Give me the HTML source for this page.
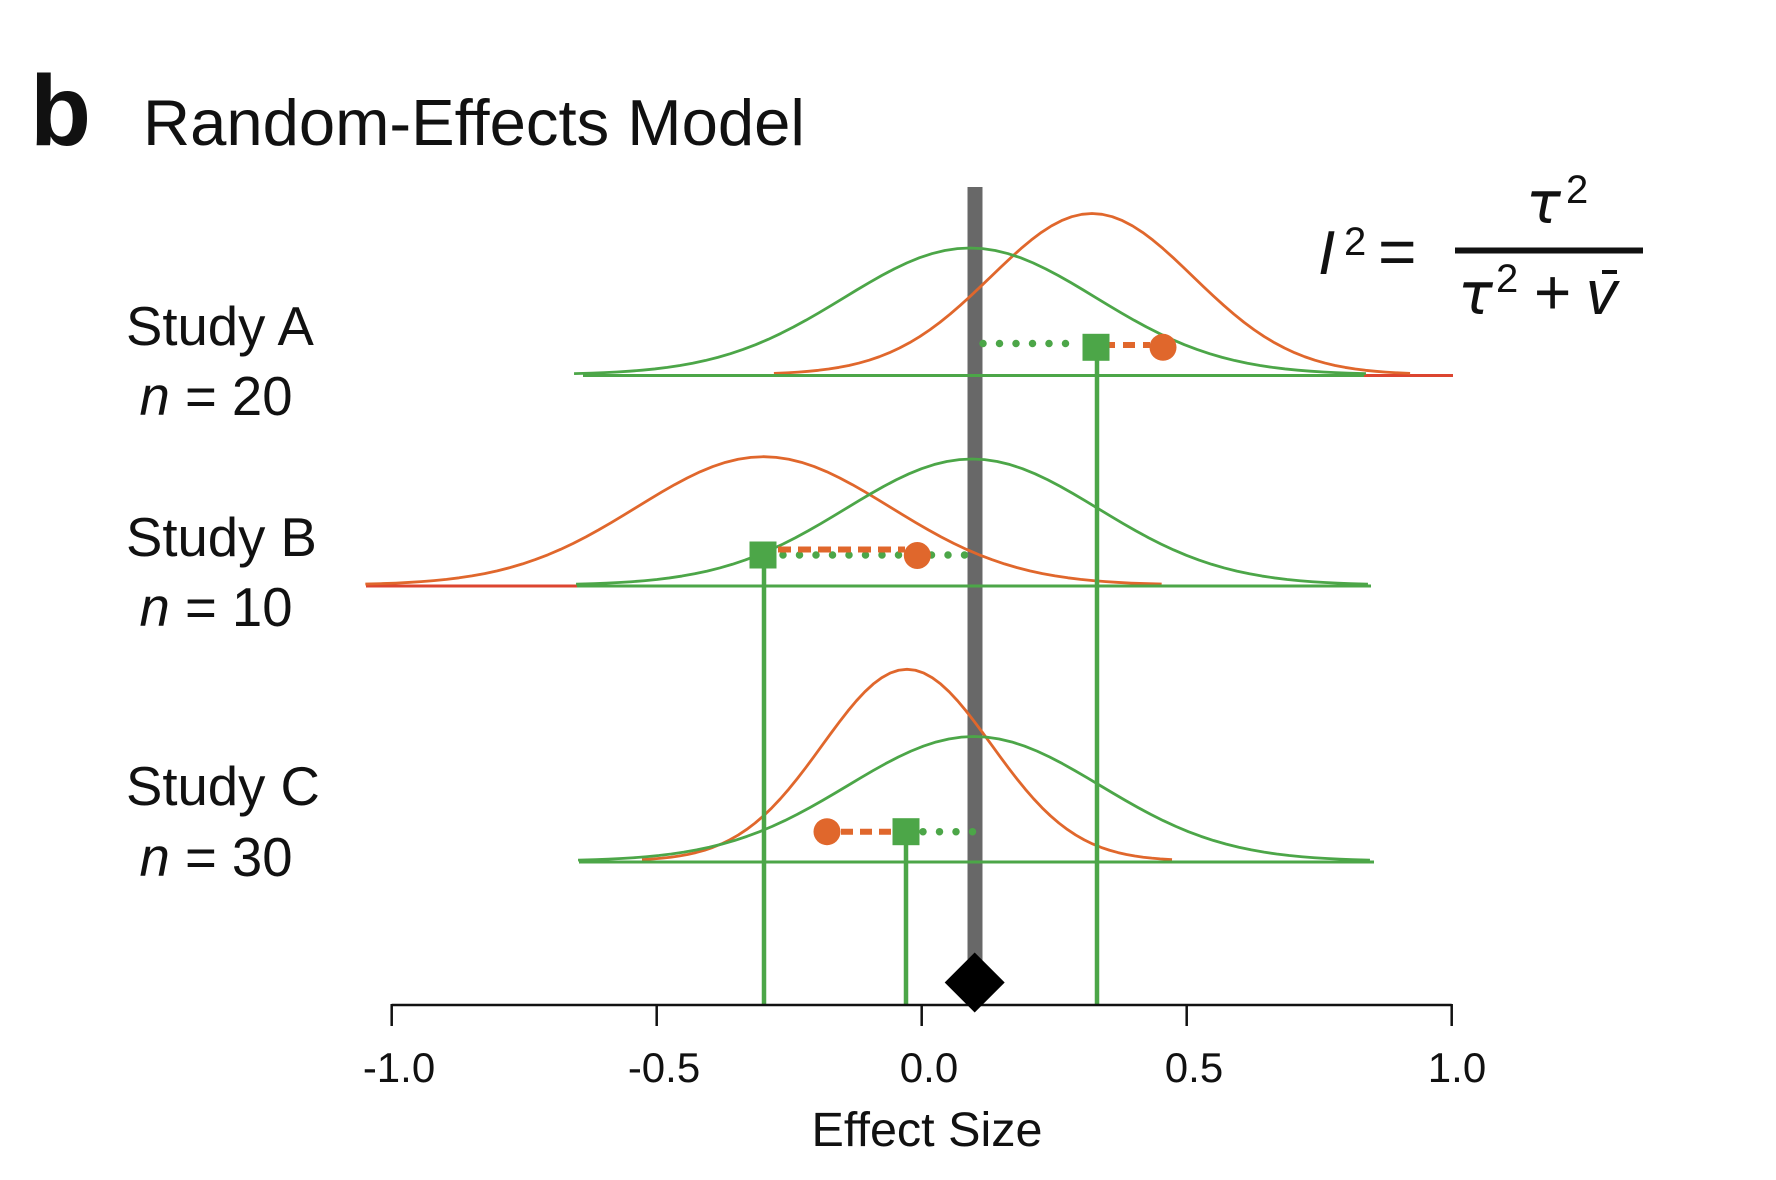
<!DOCTYPE html>
<html>
<head>
<meta charset="utf-8">
<style>
  html,body{margin:0;padding:0;background:#fff;}
  svg{display:block;}
  text{font-family:"Liberation Sans", Arial, sans-serif; fill:#111;}
</style>
</head>
<body>
<svg width="1776" height="1180" viewBox="0 0 1776 1180" xmlns="http://www.w3.org/2000/svg">
  <rect x="0" y="0" width="1776" height="1180" fill="#fff"/>

  <!-- Title -->
  <text x="30" y="145" font-size="100" font-weight="bold">b</text>
  <text x="143" y="145" font-size="65.2">Random-Effects Model</text>

  <!-- Study labels -->
  <text x="126" y="345" font-size="54.5">Study A</text>
  <text x="139.5" y="415" font-size="54.5"><tspan font-style="italic">n</tspan> = 20</text>
  <text x="126" y="556" font-size="54.5">Study B</text>
  <text x="139.5" y="626" font-size="54.5"><tspan font-style="italic">n</tspan> = 10</text>
  <text x="126" y="805" font-size="54.5">Study C</text>
  <text x="139.5" y="876" font-size="54.5"><tspan font-style="italic">n</tspan> = 30</text>

  <!-- Summary gray bar -->
  <rect x="967.5" y="187" width="15" height="800" fill="#686868"/>

  <!-- Baselines (orange/red under green) -->
  <line x1="774" y1="375.5" x2="1453" y2="375.5" stroke="#dc4530" stroke-width="3"/>
  <line x1="366" y1="586" x2="1161" y2="586" stroke="#dc4530" stroke-width="3"/>
  <line x1="642" y1="862" x2="1172" y2="862" stroke="#dc4530" stroke-width="3"/>

  <!-- Orange curves -->
  <g fill="none" stroke="#e0672c" stroke-width="2.8" stroke-linejoin="round">
    <polyline vector-effect="non-scaling-stroke" transform="translate(1092,374.5) scale(101.3,-161)" points="-3.14,0.0072 -3.0,0.0111 -2.9,0.0149 -2.8,0.0198 -2.7,0.0261 -2.6,0.034 -2.5,0.0439 -2.4,0.0561 -2.3,0.071 -2.2,0.0889 -2.1,0.1103 -2.0,0.1353 -1.9,0.1645 -1.8,0.1979 -1.7,0.2357 -1.6,0.278 -1.5,0.3247 -1.4,0.3753 -1.3,0.4296 -1.2,0.4868 -1.1,0.5461 -1.0,0.6065 -0.9,0.667 -0.8,0.7261 -0.7,0.7827 -0.6,0.8353 -0.5,0.8825 -0.4,0.9231 -0.3,0.956 -0.2,0.9802 -0.1,0.995 0,1 0.1,0.995 0.2,0.9802 0.3,0.956 0.4,0.9231 0.5,0.8825 0.6,0.8353 0.7,0.7827 0.8,0.7261 0.9,0.667 1.0,0.6065 1.1,0.5461 1.2,0.4868 1.3,0.4296 1.4,0.3753 1.5,0.3247 1.6,0.278 1.7,0.2357 1.8,0.1979 1.9,0.1645 2.0,0.1353 2.1,0.1103 2.2,0.0889 2.3,0.071 2.4,0.0561 2.5,0.0439 2.6,0.034 2.7,0.0261 2.8,0.0198 2.9,0.0149 3.0,0.0111 3.14,0.0072"/>
    <polyline vector-effect="non-scaling-stroke" transform="translate(763.5,585) scale(126.8,-128.3)" points="-3.14,0.0072 -3.0,0.0111 -2.9,0.0149 -2.8,0.0198 -2.7,0.0261 -2.6,0.034 -2.5,0.0439 -2.4,0.0561 -2.3,0.071 -2.2,0.0889 -2.1,0.1103 -2.0,0.1353 -1.9,0.1645 -1.8,0.1979 -1.7,0.2357 -1.6,0.278 -1.5,0.3247 -1.4,0.3753 -1.3,0.4296 -1.2,0.4868 -1.1,0.5461 -1.0,0.6065 -0.9,0.667 -0.8,0.7261 -0.7,0.7827 -0.6,0.8353 -0.5,0.8825 -0.4,0.9231 -0.3,0.956 -0.2,0.9802 -0.1,0.995 0,1 0.1,0.995 0.2,0.9802 0.3,0.956 0.4,0.9231 0.5,0.8825 0.6,0.8353 0.7,0.7827 0.8,0.7261 0.9,0.667 1.0,0.6065 1.1,0.5461 1.2,0.4868 1.3,0.4296 1.4,0.3753 1.5,0.3247 1.6,0.278 1.7,0.2357 1.8,0.1979 1.9,0.1645 2.0,0.1353 2.1,0.1103 2.2,0.0889 2.3,0.071 2.4,0.0561 2.5,0.0439 2.6,0.034 2.7,0.0261 2.8,0.0198 2.9,0.0149 3.0,0.0111 3.14,0.0072"/>
    <polyline vector-effect="non-scaling-stroke" transform="translate(907,861) scale(84.4,-191.7)" points="-3.14,0.0072 -3.0,0.0111 -2.9,0.0149 -2.8,0.0198 -2.7,0.0261 -2.6,0.034 -2.5,0.0439 -2.4,0.0561 -2.3,0.071 -2.2,0.0889 -2.1,0.1103 -2.0,0.1353 -1.9,0.1645 -1.8,0.1979 -1.7,0.2357 -1.6,0.278 -1.5,0.3247 -1.4,0.3753 -1.3,0.4296 -1.2,0.4868 -1.1,0.5461 -1.0,0.6065 -0.9,0.667 -0.8,0.7261 -0.7,0.7827 -0.6,0.8353 -0.5,0.8825 -0.4,0.9231 -0.3,0.956 -0.2,0.9802 -0.1,0.995 0,1 0.1,0.995 0.2,0.9802 0.3,0.956 0.4,0.9231 0.5,0.8825 0.6,0.8353 0.7,0.7827 0.8,0.7261 0.9,0.667 1.0,0.6065 1.1,0.5461 1.2,0.4868 1.3,0.4296 1.4,0.3753 1.5,0.3247 1.6,0.278 1.7,0.2357 1.8,0.1979 1.9,0.1645 2.0,0.1353 2.1,0.1103 2.2,0.0889 2.3,0.071 2.4,0.0561 2.5,0.0439 2.6,0.034 2.7,0.0261 2.8,0.0198 2.9,0.0149 3.0,0.0111 3.14,0.0072"/>
  </g>

  <!-- Green baselines -->
  <line x1="583" y1="375.5" x2="1364" y2="375.5" stroke="#4ca648" stroke-width="3"/>
  <line x1="577" y1="586" x2="1371" y2="586" stroke="#4ca648" stroke-width="3"/>
  <line x1="579" y1="862" x2="1374" y2="862" stroke="#4ca648" stroke-width="3"/>

  <!-- Green curves -->
  <g fill="none" stroke="#4ca648" stroke-width="2.8" stroke-linejoin="round">
    <polyline vector-effect="non-scaling-stroke" transform="translate(970,374.5) scale(126.1,-126.5)" points="-3.14,0.0072 -3.0,0.0111 -2.9,0.0149 -2.8,0.0198 -2.7,0.0261 -2.6,0.034 -2.5,0.0439 -2.4,0.0561 -2.3,0.071 -2.2,0.0889 -2.1,0.1103 -2.0,0.1353 -1.9,0.1645 -1.8,0.1979 -1.7,0.2357 -1.6,0.278 -1.5,0.3247 -1.4,0.3753 -1.3,0.4296 -1.2,0.4868 -1.1,0.5461 -1.0,0.6065 -0.9,0.667 -0.8,0.7261 -0.7,0.7827 -0.6,0.8353 -0.5,0.8825 -0.4,0.9231 -0.3,0.956 -0.2,0.9802 -0.1,0.995 0,1 0.1,0.995 0.2,0.9802 0.3,0.956 0.4,0.9231 0.5,0.8825 0.6,0.8353 0.7,0.7827 0.8,0.7261 0.9,0.667 1.0,0.6065 1.1,0.5461 1.2,0.4868 1.3,0.4296 1.4,0.3753 1.5,0.3247 1.6,0.278 1.7,0.2357 1.8,0.1979 1.9,0.1645 2.0,0.1353 2.1,0.1103 2.2,0.0889 2.3,0.071 2.4,0.0561 2.5,0.0439 2.6,0.034 2.7,0.0261 2.8,0.0198 2.9,0.0149 3.0,0.0111 3.14,0.0072"/>
    <polyline vector-effect="non-scaling-stroke" transform="translate(972,585) scale(126.1,-126)" points="-3.14,0.0072 -3.0,0.0111 -2.9,0.0149 -2.8,0.0198 -2.7,0.0261 -2.6,0.034 -2.5,0.0439 -2.4,0.0561 -2.3,0.071 -2.2,0.0889 -2.1,0.1103 -2.0,0.1353 -1.9,0.1645 -1.8,0.1979 -1.7,0.2357 -1.6,0.278 -1.5,0.3247 -1.4,0.3753 -1.3,0.4296 -1.2,0.4868 -1.1,0.5461 -1.0,0.6065 -0.9,0.667 -0.8,0.7261 -0.7,0.7827 -0.6,0.8353 -0.5,0.8825 -0.4,0.9231 -0.3,0.956 -0.2,0.9802 -0.1,0.995 0,1 0.1,0.995 0.2,0.9802 0.3,0.956 0.4,0.9231 0.5,0.8825 0.6,0.8353 0.7,0.7827 0.8,0.7261 0.9,0.667 1.0,0.6065 1.1,0.5461 1.2,0.4868 1.3,0.4296 1.4,0.3753 1.5,0.3247 1.6,0.278 1.7,0.2357 1.8,0.1979 1.9,0.1645 2.0,0.1353 2.1,0.1103 2.2,0.0889 2.3,0.071 2.4,0.0561 2.5,0.0439 2.6,0.034 2.7,0.0261 2.8,0.0198 2.9,0.0149 3.0,0.0111 3.14,0.0072"/>
    <polyline vector-effect="non-scaling-stroke" transform="translate(974,861) scale(126.1,-124.5)" points="-3.14,0.0072 -3.0,0.0111 -2.9,0.0149 -2.8,0.0198 -2.7,0.0261 -2.6,0.034 -2.5,0.0439 -2.4,0.0561 -2.3,0.071 -2.2,0.0889 -2.1,0.1103 -2.0,0.1353 -1.9,0.1645 -1.8,0.1979 -1.7,0.2357 -1.6,0.278 -1.5,0.3247 -1.4,0.3753 -1.3,0.4296 -1.2,0.4868 -1.1,0.5461 -1.0,0.6065 -0.9,0.667 -0.8,0.7261 -0.7,0.7827 -0.6,0.8353 -0.5,0.8825 -0.4,0.9231 -0.3,0.956 -0.2,0.9802 -0.1,0.995 0,1 0.1,0.995 0.2,0.9802 0.3,0.956 0.4,0.9231 0.5,0.8825 0.6,0.8353 0.7,0.7827 0.8,0.7261 0.9,0.667 1.0,0.6065 1.1,0.5461 1.2,0.4868 1.3,0.4296 1.4,0.3753 1.5,0.3247 1.6,0.278 1.7,0.2357 1.8,0.1979 1.9,0.1645 2.0,0.1353 2.1,0.1103 2.2,0.0889 2.3,0.071 2.4,0.0561 2.5,0.0439 2.6,0.034 2.7,0.0261 2.8,0.0198 2.9,0.0149 3.0,0.0111 3.14,0.0072"/>
  </g>

  <!-- Green vertical lines -->
  <g stroke="#4ca648" stroke-width="4.5">
    <line x1="1097" y1="347" x2="1097" y2="1005"/>
    <line x1="764" y1="555" x2="764" y2="1005"/>
    <line x1="906" y1="832" x2="906" y2="1005"/>
  </g>

  <!-- Dotted green / dashed orange connectors -->
  <g fill="none">
    <line x1="983" y1="343.5" x2="1082" y2="343.5" stroke="#4ca648" stroke-width="7.5" stroke-linecap="round" stroke-dasharray="0 16.5"/>
    <line x1="1103" y1="345" x2="1150" y2="345" stroke="#e0672c" stroke-width="6" stroke-dasharray="12 8"/>

    <line x1="783" y1="555" x2="981" y2="555" stroke="#4ca648" stroke-width="7.5" stroke-linecap="round" stroke-dasharray="0 16.5"/>
    <line x1="778" y1="549.5" x2="905" y2="549.5" stroke="#e0672c" stroke-width="6" stroke-dasharray="13 7"/>

    <line x1="923" y1="831.7" x2="974" y2="831.7" stroke="#4ca648" stroke-width="7.5" stroke-linecap="round" stroke-dasharray="0 16.5"/>
    <line x1="841" y1="831.7" x2="893" y2="831.7" stroke="#e0672c" stroke-width="6" stroke-dasharray="12 7"/>
  </g>

  <!-- Markers -->
  <rect x="1082.5" y="333.8" width="27" height="27" fill="#4ca648"/>
  <circle cx="1163" cy="347.3" r="13.5" fill="#e0672c"/>

  <rect x="749.5" y="541.5" width="27" height="27" fill="#4ca648"/>
  <circle cx="917.3" cy="555.5" r="13.5" fill="#e0672c"/>

  <rect x="892.5" y="818.2" width="27" height="27" fill="#4ca648"/>
  <circle cx="827" cy="831.7" r="13.5" fill="#e0672c"/>

  <!-- Axis -->
  <g stroke="#111" stroke-width="2.5">
    <line x1="391.7" y1="1005" x2="1451.7" y2="1005"/>
    <line x1="391.7" y1="1004" x2="391.7" y2="1026"/>
    <line x1="656.7" y1="1004" x2="656.7" y2="1026"/>
    <line x1="921.7" y1="1004" x2="921.7" y2="1026"/>
    <line x1="1186.7" y1="1004" x2="1186.7" y2="1026"/>
    <line x1="1451.7" y1="1004" x2="1451.7" y2="1026"/>
  </g>

  <!-- Diamond -->
  <polygon points="974.7,952.5 1004.7,982.5 974.7,1012.5 944.7,982.5" fill="#000"/>

  <!-- Tick labels -->
  <g font-size="42" text-anchor="middle">
    <text x="399" y="1082">-1.0</text>
    <text x="664" y="1082">-0.5</text>
    <text x="929" y="1082">0.0</text>
    <text x="1194" y="1082">0.5</text>
    <text x="1457" y="1082">1.0</text>
  </g>
  <text x="927" y="1146" font-size="48.5" text-anchor="middle">Effect Size</text>

  <!-- Formula -->
  <text x="1318" y="274" font-size="62" font-style="italic">I</text>
  <text x="1344" y="255" font-size="40">2</text>
  <text x="1378" y="274" font-size="66">=</text>
  <rect x="1455" y="247.5" width="188" height="6" fill="#111"/>
  <text x="1526" y="223" font-size="58" font-style="italic" style="font-family:'DejaVu Sans', sans-serif;">τ</text>
  <text x="1566" y="203" font-size="40">2</text>
  <text x="1458" y="314" font-size="58" font-style="italic" style="font-family:'DejaVu Sans', sans-serif;">τ</text>
  <text x="1496" y="292" font-size="40">2</text>
  <text x="1533" y="314" font-size="64" font-style="italic">+</text>
  <text x="1586" y="314" font-size="62" font-style="italic">v</text>
  <rect x="1602" y="270" width="15" height="4" fill="#111"/>
</svg>
</body>
</html>
